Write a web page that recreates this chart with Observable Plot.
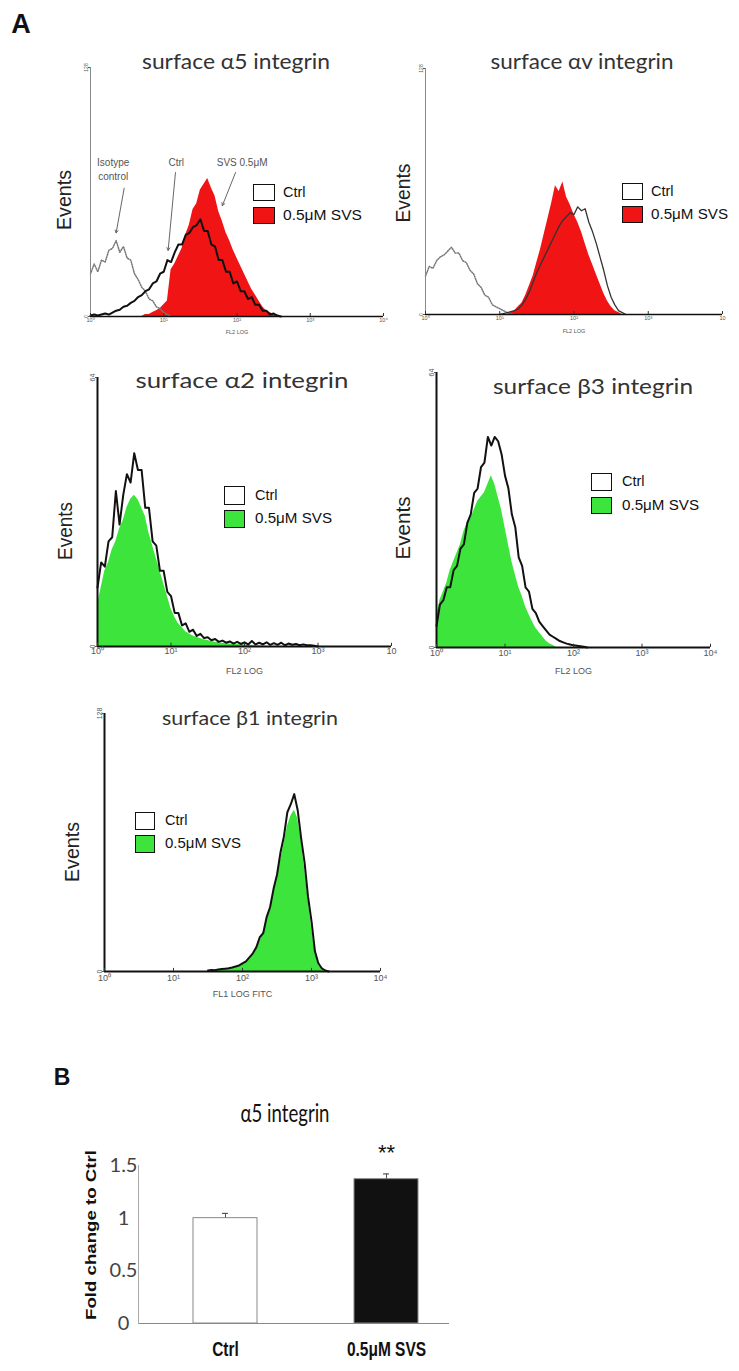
<!DOCTYPE html>
<html><head><meta charset="utf-8">
<script src="https://cdn.jsdelivr.net/npm/d3@7"></script>
<script src="https://cdn.jsdelivr.net/npm/@observablehq/plot@0.6"></script>
<style>
html,body{margin:0;padding:0;background:#fff;}
#page{position:relative;width:739px;height:1371px;overflow:hidden;background:#fff;font-family:"Liberation Sans",Arial,sans-serif;}
</style></head><body><div id="page"></div>
<script>
// ---------- data (histogram counts on a log10 grid, step 0.05 decade) ----------
const STEP = 0.05;
const decadeTicks = [1, 10, 100, 1000, 10000];
const tickLabelsFull = ["10⁰", "10¹", "10²", "10³", "10⁴"];
const tickLabelsCut = ["10⁰", "10¹", "10²", "10³", "10"];

// surface α5 integrin (events 0–128)
const a5YTicks = ["0", "128"];
const a5IsoStart = 0.0;
const a5Iso = [22,27,23,29,28,34,35,39,33,36,30,29,22,19,15,13,9,8,5,4,2,1,0];
const a5CtrlStart = 0.0;
const a5Ctrl = [0.5,1,0.5,1,1.5,1,2,3,3.5,5,5.5,7,8,10,11,13,14,17,18,22,23,29,28,33,37,37,42,43,46,47,50,44,44,37,36,29,29,23,23,17,18,13,13,9,10,6,6,3,3,1,1.5,0.5,0];
const a5SvsStart = 0.7;
const a5Svs = [0,1,1,2,3,4,6,8,24,27,31,35,42,47,55,58,65,68,71,66,62,54,49,43,39,34,30,26,22,18,14,11,8,5,3,2,1,0];
const a5NoteLabels = ["Isotype", "control", "Ctrl", "SVS 0.5μM"];
const a5NoteLog = [0.31, 0.31, 1.17, 2.07];
const a5NoteEvents = [79, 72, 79, 79];
const a5ArrowFromLog = [0.46, 1.16, 1.98];
const a5ArrowFromEv = [66, 74, 74];
const a5ArrowToLog = [0.35, 1.06, 1.80];
const a5ArrowToEv = [43, 34, 57];

// surface αv integrin (events 0–128)
const avYTicks = ["0", "128"];
const avIsoStart = 0.0;
const avIso = [20,25,24,28,30,31,33,35,32,32,28,27,23,21,16,14,10,9,5,4,3,2,1,0.5,0];
const avCtrlStart = 1.0;
const avCtrl = [0,0.5,1,1.5,2,3,5,8,12,17,22,26,30,34,38,42,46,49,51,53,52,56,54,55,48,43,37,30,23,15,9,5,2,1,0];
const avSvsStart = 1.1;
const avSvs = [0,1,2,4,6,10,15,20,27,34,42,50,58,67,64,69,61,57,52,48,43,37,31,26,21,16,11,7,4,2,1,0];

// surface α2 integrin (events 0–64)
const a2YTicks = ["0", "64"];
const a2CtrlStart = 0.0;
const a2Ctrl = [14,20,19,25,26,37,29,36,41,39,46,42,42,33,33,25,24,18,18,13,12,8,8,5,5.5,3.5,4,2.5,3,2,2.2,1.5,1.8,1.1,1.4,0.9,1.2,0.7,1.1,0.6,1,0.5,1.3,0.5,0.9,0.5,1,0.4,0.8,0.4,0.9,0.3,0.7,0.4,0.6,0.3,0.5,0.3,0.3,0.2,0];
const a2SvsStart = 0.0;
const a2Svs = [10,14,18,20,23,25,28,30,33,35,36,35,33,31,27,24,21,18,15,12,9,7,5.5,4.5,3.5,3,2.5,2.2,1.9,1.6,1.4,1.2,1,0.9,0.8,0.7,0.6,0.5,0.5,0.4,0.4,0.3,0.3,0.2,0.2,0.1,0];

// surface β3 integrin (events 0–64)
const b3YTicks = ["0", "64"];
const b3CtrlStart = 0.0;
const b3Ctrl = [5,10,11,14,14,18,19,23,24,29,31,36,37,42,43,49,47,49,48,45,40,37,31,28,21,19,14,13,9,8,6,5,4,3,2.5,2,1.5,1.2,0.9,0.7,0.5,0.4,0.3,0.2,0];
const b3SvsStart = 0.0;
const b3Svs = [7,11,13,15,18,20,22,24,27,29,30,32,34,35,36,38,40,38,35,32,28,24,20,17,14,12,9.5,7.7,6,4.5,3.5,2.5,1.5,0.9,0.5,0];

// surface β1 integrin (events 0–128)
const b1YTicks = ["0", "128"];
const b1CtrlStart = 1.5;
const b1Ctrl = [0.5,0.8,0.6,1,1.2,1.4,1.6,2,2.5,3,4,5,7,9,12,17,19,27,32,41,48,59,67,79,83,88,80,66,54,37,25,10,4,1.5,0.5,0];
const b1SvsStart = 1.5;
const b1Svs = [0.3,0.5,0.4,0.7,0.8,1,1.2,1.5,2,2.5,3.5,4.5,6,8,11,15,19,25,32,39,47,55,63,72,77,80,76,65,51,36,22,10,3,1,0];

// Panel B: α5 integrin fold change
const barCats = ["Ctrl", "0.5μM SVS"];
const barVals = [1.0, 1.37];
const barErrs = [0.045, 0.05];
const barSig = ["", "**"];
const barYTicks = [0, 0.5, 1, 1.5];

// ---------- helpers ----------
const page = document.getElementById("page");
const rows = (start, counts) => counts.map((c, i) => ({x: Math.pow(10, start + i * STEP), y: c}));
const RED = "#f01414", GREEN = "#3ce43c";

function place(svg, left, top) {
  svg.style.position = "absolute";
  svg.style.left = left + "px";
  svg.style.top = top + "px";
  svg.style.background = "transparent";
  svg.style.overflow = "visible";
  svg.style.maxWidth = "none";
  page.appendChild(svg);
}

function label(txt, o) {
  const d = document.createElement("div");
  d.textContent = txt;
  Object.assign(d.style, {
    position: "absolute", left: "0px", top: "0px", whiteSpace: "nowrap", lineHeight: "1",
    fontFamily: o.font || "'Liberation Sans', Arial, sans-serif",
    fontSize: o.size + "px", fontWeight: o.weight || "normal", color: o.color || "#111"
  });
  page.appendChild(d);
  const r = d.getBoundingClientRect();
  const nw = r.width, nh = r.height;
  const sx = o.w ? o.w / nw : 1;
  const sy = o.sy || 1;
  const cx = o.x !== undefined ? o.x + nw * sx / 2 : o.cx;
  d.style.transformOrigin = "50% 50%";
  d.style.transform = `translate(${cx - nw / 2}px, ${o.cy - nh / 2}px) rotate(${o.rot || 0}deg) scale(${sx}, ${sy})`;
}

function box(left, top, w, h, fill) {
  const d = document.createElement("div");
  Object.assign(d.style, {position: "absolute", left: left + "px", top: top + "px", width: w + "px", height: h + "px",
    boxSizing: "border-box", border: "1.6px solid #111", background: fill});
  page.appendChild(d);
}

function hist(c) {
  const ml = 30, mr = 25, mt = 10, mb = 38;
  const W = c.x1 - c.x0 + ml + mr, H = c.y1 - c.y0 + mt + mb;
  const labs = c.xTickLabels;
  const marks = [];
  for (const s of c.fills) marks.push(Plot.areaY(rows(s.start, s.counts), {x: "x", y: "y", fill: s.color, curve: "linear"}));
  for (const s of c.lines) marks.push(Plot.lineY(rows(s.start, s.counts), {x: "x", y: "y", stroke: s.color, strokeWidth: s.width, strokeDasharray: s.dash, curve: "linear"}));
  marks.push(Plot.ruleY([0], {stroke: "#111", strokeWidth: c.baseW}));
  marks.push(Plot.ruleX([1], {stroke: c.yAxisColor, strokeWidth: c.yAxisW}));
  marks.push(Plot.ruleX(decadeTicks, {x: d => d, y1: 0, y2: c.ymax * 0.012, stroke: "#333", strokeWidth: 1}));
  marks.push(Plot.text(decadeTicks, {x: d => d, text: d => labs[decadeTicks.indexOf(d)], frameAnchor: "bottom",
    dy: c.xTickDy, fontSize: c.tickFs, fill: "#555"}));
  marks.push(Plot.axisY({ticks: [0, c.ymax], tickFormat: (d, i) => c.yTickLabels[i], tickRotate: -90, tickSize: 2, tickPadding: 1, fontSize: c.yFs, color: "#555", label: null}));
  marks.push(Plot.text([c.xTitle], {frameAnchor: "bottom", dy: c.xTitleDy, fontSize: c.titleFs, fill: "#555"}));
  if (c.extra) marks.push(...c.extra);
  const svg = Plot.plot({
    width: W, height: H, marginLeft: ml, marginRight: mr, marginTop: mt, marginBottom: mb,
    style: {background: "transparent", fontFamily: "'Liberation Sans', Arial, sans-serif", overflow: "visible"},
    x: {type: "log", domain: [1, 10000], axis: null},
    y: {domain: [0, c.ymax]},
    marks
  });
  place(svg, c.x0 - ml, c.y0 - mt);
}

// ---------- α5 ----------
const a5Notes = a5NoteLabels.map((t, i) => ({t, x: Math.pow(10, a5NoteLog[i]), y: a5NoteEvents[i]}));
const a5Arrows = a5ArrowFromLog.map((v, i) => ({x1: Math.pow(10, v), y1: a5ArrowFromEv[i], x2: Math.pow(10, a5ArrowToLog[i]), y2: a5ArrowToEv[i]}));
hist({x0: 90, x1: 383, y0: 67, y1: 316, ymax: 128, yAxisColor: "#888", yAxisW: 1, baseW: 1.6,
  tickFs: 5.5, xTickDy: 5, xTitle: "FL2 LOG", xTitleDy: 17, titleFs: 5.5, yFs: 5,
  xTickLabels: tickLabelsFull, yTickLabels: a5YTicks,
  fills: [{start: a5SvsStart, counts: a5Svs, color: RED}],
  lines: [{start: a5IsoStart, counts: a5Iso, color: "#777", width: 1.5, dash: "1,1.5"},
          {start: a5CtrlStart, counts: a5Ctrl, color: "#111", width: 2}],
  extra: [
    Plot.text(a5Notes, {x: "x", y: "y", text: "t", fontSize: 10, fill: "#555"}),
    Plot.arrow(a5Arrows, {x1: "x1", y1: "y1", x2: "x2", y2: "y2", stroke: "#555", strokeWidth: 0.9, headLength: 5})
  ]});

// ---------- αv ----------
hist({x0: 425, x1: 722, y0: 68, y1: 314, ymax: 128, yAxisColor: "#888", yAxisW: 1, baseW: 1.6,
  tickFs: 5.5, xTickDy: 5, xTitle: "FL2 LOG", xTitleDy: 18, titleFs: 5.5, yFs: 5,
  xTickLabels: tickLabelsCut, yTickLabels: avYTicks,
  fills: [{start: avSvsStart, counts: avSvs, color: RED}],
  lines: [{start: avIsoStart, counts: avIso, color: "#777", width: 1.5, dash: "1,1.5"},
          {start: avCtrlStart, counts: avCtrl, color: "#333", width: 1.3}]});

// ---------- α2 ----------
hist({x0: 97, x1: 391, y0: 377, y1: 646, ymax: 64, yAxisColor: "#111", yAxisW: 2, baseW: 2,
  tickFs: 9, xTickDy: 7, xTitle: "FL2 LOG", xTitleDy: 27, titleFs: 9, yFs: 7,
  xTickLabels: tickLabelsCut, yTickLabels: a2YTicks,
  fills: [{start: a2SvsStart, counts: a2Svs, color: GREEN}],
  lines: [{start: a2CtrlStart, counts: a2Ctrl, color: "#111", width: 2}]});

// ---------- β3 ----------
hist({x0: 436, x1: 710, y0: 372, y1: 647, ymax: 64, yAxisColor: "#111", yAxisW: 2, baseW: 2,
  tickFs: 9, xTickDy: 8, xTitle: "FL2 LOG", xTitleDy: 26, titleFs: 9, yFs: 7,
  xTickLabels: tickLabelsFull, yTickLabels: b3YTicks,
  fills: [{start: b3SvsStart, counts: b3Svs, color: GREEN}],
  lines: [{start: b3CtrlStart, counts: b3Ctrl, color: "#111", width: 2}]});

// ---------- β1 ----------
hist({x0: 104, x1: 380, y0: 713, y1: 971, ymax: 128, yAxisColor: "#111", yAxisW: 2, baseW: 2,
  tickFs: 9, xTickDy: 9, xTitle: "FL1 LOG FITC", xTitleDy: 25, titleFs: 9, yFs: 7,
  xTickLabels: tickLabelsFull, yTickLabels: b1YTicks,
  fills: [{start: b1SvsStart, counts: b1Svs, color: GREEN}],
  lines: [{start: b1CtrlStart, counts: b1Ctrl, color: "#111", width: 2}]});

// ---------- Panel B bar chart ----------
const bars = barCats.map((cat, i) => ({cat, val: barVals[i], err: barErrs[i], sig: barSig[i]}));
const barSvg = Plot.plot({
  width: 480, height: 231, marginLeft: 138, marginRight: 31, marginTop: 25, marginBottom: 48,
  style: {background: "transparent", fontFamily: "'Liberation Sans', Arial, sans-serif", overflow: "visible"},
  x: {domain: barCats, range: [144, 467], paddingInner: 0.6, paddingOuter: 0.3},
  y: {domain: [0, 1.5]},
  color: {domain: barCats, range: ["#ffffff", "#111111"]},
  marks: [
    Plot.barY(bars, {x: "cat", y: "val", fill: "cat", stroke: "#888", strokeWidth: 1}),
    Plot.ruleX(bars, {x: "cat", y1: "val", y2: d => d.val + d.err, stroke: "#555", strokeWidth: 1}),
    Plot.tickY(bars, {x: "cat", y: d => d.val + d.err, stroke: "#555", strokeWidth: 1.2, insetLeft: 29, insetRight: 29}),
    Plot.ruleY([0], {stroke: "#888", strokeWidth: 1.2}),
    Plot.frame({anchor: "left", stroke: "#aaa"}),
    Plot.axisY({ticks: barYTicks, tickFormat: d => String(d), tickSize: 0, tickPadding: 15, textAnchor: "middle",
      fontSize: 20, fontFamily: "Lato, 'Open Sans', sans-serif", color: "#444", label: null}),
    Plot.axisX({tickSize: 0, tickPadding: 19, fontSize: 15.5, fontWeight: "bold", color: "#111", label: null}),
    Plot.text(bars, {x: "cat", y: d => d.val + d.err, text: "sig", dy: -21, fontSize: 22, fill: "#111"})
  ]
});
place(barSvg, 0, 1140);
// make the bold category labels taller, like the stretched original
d3.select(barSvg).selectAll('g[aria-label="x-axis tick label"] text').each(function () {
  const t = this.getAttribute("transform");
  if (t && t.includes("translate")) this.setAttribute("transform", t + " scale(1,1.25)");
});

// ---------- text labels, titles, legends ----------
const TITLE_FONT = "Lato, 'Open Sans', sans-serif";
label("A", {cx: 21, cy: 24, size: 27, weight: "bold"});
label("surface α5 integrin", {cx: 236, cy: 60, size: 21, w: 188, font: TITLE_FONT, color: "#333"});
label("surface αv integrin", {cx: 582, cy: 60, size: 21, w: 183, font: TITLE_FONT, color: "#333"});
label("surface α2 integrin", {cx: 242, cy: 380, size: 22, w: 213, font: TITLE_FONT, color: "#333"});
label("surface β3 integrin", {cx: 593, cy: 386, size: 22, w: 200, font: TITLE_FONT, color: "#333"});
label("surface β1 integrin", {cx: 250, cy: 717, size: 20, w: 176, font: TITLE_FONT, color: "#333"});

label("Events", {cx: 64, cy: 200, size: 20, w: 60, rot: -90, color: "#222"});
label("Events", {cx: 403, cy: 193, size: 20, w: 59, rot: -90, color: "#222"});
label("Events", {cx: 65, cy: 531, size: 20, w: 58, rot: -90, color: "#222"});
label("Events", {cx: 403, cy: 528, size: 20, w: 63, rot: -90, color: "#222"});
label("Events", {cx: 72, cy: 852, size: 20, w: 60, rot: -90, color: "#222"});

// legends
box(253, 184, 22, 17, "#fff"); box(253, 207, 22, 17, RED);
label("Ctrl", {x: 283, cy: 192, size: 14.5}); label("0.5μM SVS", {x: 283, cy: 215, size: 14.5, w: 79});
box(622, 183, 21, 17, "#fff"); box(622, 206, 21, 17, RED);
label("Ctrl", {x: 651, cy: 191, size: 14.5}); label("0.5μM SVS", {x: 651, cy: 214, size: 14.5, w: 77});
box(224, 486, 21, 19, "#fff"); box(224, 510, 21, 18, GREEN);
label("Ctrl", {x: 255, cy: 495, size: 14.5}); label("0.5μM SVS", {x: 255, cy: 518, size: 14.5, w: 77});
box(591, 473, 21, 18, "#fff"); box(591, 497, 21, 17, GREEN);
label("Ctrl", {x: 622, cy: 481, size: 14.5}); label("0.5μM SVS", {x: 622, cy: 505, size: 14.5, w: 77});
box(135, 812, 20, 18, "#fff"); box(135, 835, 20, 18, GREEN);
label("Ctrl", {x: 165, cy: 820, size: 14.5}); label("0.5μM SVS", {x: 165, cy: 843, size: 14.5, w: 76});

// panel B text
label("B", {cx: 62, cy: 1077, size: 23, weight: "bold"});
label("α5 integrin", {cx: 285, cy: 1113, size: 22, w: 89, sy: 1.1, font: TITLE_FONT, color: "#111"});
label("Fold change to Ctrl", {cx: 91, cy: 1235, size: 14, weight: "bold", w: 170, rot: -90});
</script></body></html>
